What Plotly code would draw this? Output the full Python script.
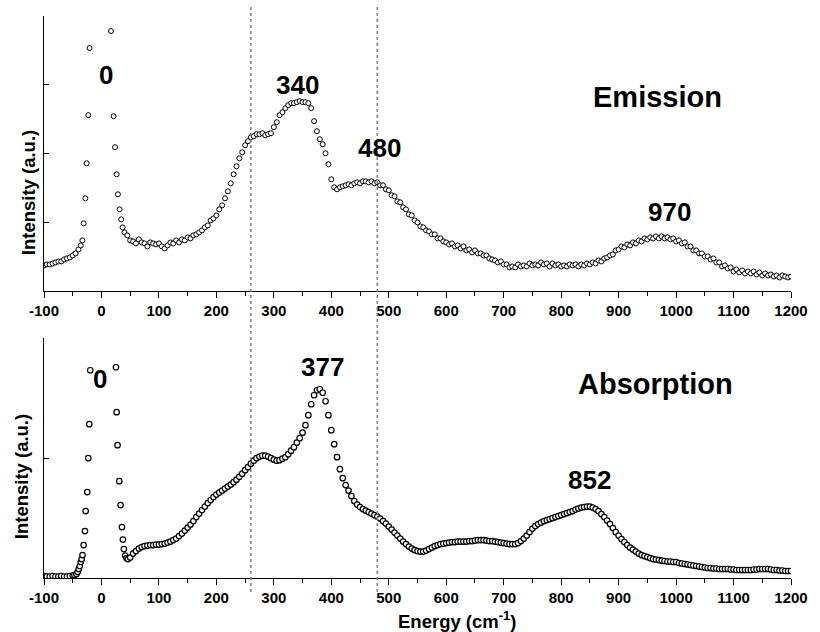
import plotly.graph_objects as go

# ---------------- Emission (top panel) ----------------
em_left_x = list(range(-100, -35, 5))
em_left_y = [26, 27, 27, 28, 29, 30, 30, 32, 33, 34, 36, 38, 42]

em_peak_x = [-36, -33.2, -31, -28, -25.8, -23, -20.7, -18, -15, -12, -9, -6, -3, 0,
             3, 6, 9, 12, 14.5, 16.6, 21.2, 23.5, 26.4, 28.7, 31.6, 34.4, 36.7]
em_peak_y = [46, 51, 68, 93, 128, 176, 243, 330, 420, 520, 600, 650, 680, 690,
             670, 600, 500, 400, 320, 260, 175, 144, 117, 97, 82, 72, 64]

em_right_x = list(range(40, 1201, 5))
em_right_y = [
    59, 56, 51, 50, 48, 52, 49, 48, 45, 49,
    48, 47, 48, 45, 43, 46, 49, 48, 51, 49,
    52, 51, 54, 53, 56, 57, 59, 61, 64, 66,
    71, 73, 76, 82, 86, 93, 100, 108, 117, 125,
    133, 139, 146, 150, 154, 155, 157, 157, 158, 156,
    157, 158, 164, 169, 176, 179, 183, 186, 188, 188,
    189, 190, 189, 189, 188, 183, 170, 160, 152, 147,
    138, 127, 112, 104, 102, 104, 105, 106, 107, 106,
    108, 109, 108, 110, 110, 109, 110, 108, 109, 106,
    106, 102, 101, 96, 95, 90, 89, 84, 82, 77,
    76, 71, 69, 65, 64, 61, 60, 57, 57, 53,
    53, 50, 49, 47, 48, 45, 46, 43, 45, 41,
    42, 39, 41, 38, 38, 36, 36, 33, 32, 31,
    29, 30, 27, 27, 24, 25, 24, 27, 25, 26,
    25, 28, 26, 27, 26, 29, 27, 28, 25, 28,
    26, 27, 25, 26, 25, 27, 26, 27, 25, 27,
    26, 28, 27, 29, 28, 31, 30, 33, 34, 36,
    37, 41, 42, 45, 44, 47, 46, 49, 48, 51,
    50, 53, 52, 54, 53, 55, 53, 55, 53, 54,
    52, 53, 50, 51, 48, 49, 45, 45, 41, 41,
    38, 38, 35, 35, 32, 33, 29, 29, 25, 26,
    23, 24, 20, 22, 19, 21, 18, 20, 18, 20,
    17, 19, 16, 18, 16, 17, 15, 16, 14, 16,
    15, 14, 15,
]

# ---------------- Absorption (bottom panel) ----------------
ab_left_x = list(range(-100, -49, 5))
ab_left_y = [2, 1.5, 1.5, 2, 1.5, 1.5, 2, 1.5, 1.5, 2, 2.5]

ab_peak_x = [-47, -43.6, -41.5, -39.6, -37.8, -36, -34.5, -33, -31, -28.7, -27.5,
             -24.7, -23, -21.2, -19.5, -17, -14, -10, -6, -2, 2, 6, 10, 14, 18, 22,
             25.2, 26.4, 28, 31, 33.3, 35.6, 37.3, 39, 41.3, 43.6, 46]
ab_peak_y = [3, 4, 6, 9, 12, 16, 19, 23, 33, 47, 67,
             86, 120, 154, 208, 260, 320, 380, 420, 440, 440, 420, 390, 350, 300, 250,
             211, 166, 133, 97, 73, 51, 38.5, 29, 22.5, 20, 19]

ab_right_x = list(range(50, 1201, 5))
ab_right_y = [
    20.5, 24.5, 27, 29.5, 31, 32, 32.5, 33, 33, 33.5,
    33.5, 34, 34.5, 35.5, 36.5, 38, 39.5, 42, 44.5, 47.5,
    50.5, 53.5, 57, 61, 64.5, 68, 71.5, 75, 78, 81,
    83.5, 85.5, 87.5, 89.5, 91.5, 93.5, 96, 98.5, 101.5, 104.5,
    108, 111, 114.5, 117.5, 120, 121.5, 122.5, 122.5, 121.5, 120,
    118.5, 117.5, 118, 119.5, 121, 124, 127.5, 131, 135.5, 140,
    145.5, 153, 163, 174, 183, 188, 189, 185.5, 177, 163,
    148, 134, 121, 109, 100, 93, 87.5, 82, 77, 73.5,
    71, 69, 67.5, 66, 64.5, 63, 61.5, 59.5, 57, 54.5,
    51.5, 48.5, 45.5, 42.5, 39.5, 36.5, 34, 31.5, 29.5, 28,
    27, 26.5, 26.5, 27.5, 29, 30.5, 32, 33, 34, 34.5,
    35, 35.5, 36, 36, 36.5, 36.5, 36.5, 36.5, 37, 37,
    37.5, 38, 38, 38, 37.5, 37, 37, 36.5, 36, 35.5,
    35, 34.5, 34, 34, 34, 35, 37, 39.5, 42.5, 46,
    49.5, 52, 54, 55.5, 57, 58, 59, 60, 61, 62,
    63, 64, 65, 66, 67, 68.5, 69.5, 70.5, 71, 71.5,
    71.5, 70.5, 69, 67, 64, 61, 57.5, 54, 50, 46,
    42.5, 39, 36, 33, 30.5, 28.5, 26.5, 24.5, 23, 22,
    21, 20, 19, 18.5, 18, 17.5, 17, 16.5, 16.5, 16,
    16, 15, 14.5, 14, 13.5, 13, 12.5, 12, 11.5, 11,
    10.5, 10, 10, 9.5, 9.5, 9, 9, 9, 9, 8.5,
    8.5, 8, 8, 8, 8, 8, 8, 8.5, 8.5, 9,
    9, 9, 9, 8.5, 8, 8, 7.5, 7.5, 7, 7,
    7,
]

emission_x = em_left_x + em_peak_x + em_right_x
emission_y = em_left_y + em_peak_y + em_right_y
absorption_x = ab_left_x + ab_peak_x + ab_right_x
absorption_y = ab_left_y + ab_peak_y + ab_right_y

x_ticks = list(range(-100, 1201, 100))
marker_lines = [260, 480]

em_labels = [("0", 8, 216), ("340", 341, 206), ("480", 484, 143), ("970", 989, 79)]
ab_labels = [("0", -3, 199), ("377", 384, 211), ("852", 850, 98)]

FONT = "Liberation Sans, Arial, Helvetica, sans-serif"

em_marker = dict(symbol="circle", size=5, color="white", line=dict(color="black", width=1))
ab_marker = dict(symbol="circle", size=5.5, color="white", line=dict(color="black", width=1.2))

fig = go.Figure()
fig.add_trace(go.Scatter(x=emission_x, y=emission_y, mode="markers", marker=em_marker,
                         xaxis="x", yaxis="y", showlegend=False))
fig.add_trace(go.Scatter(x=absorption_x, y=absorption_y, mode="markers", marker=ab_marker,
                         xaxis="x2", yaxis="y2", showlegend=False))

xcommon = dict(range=[-100, 1200], tickvals=x_ticks, ticktext=[str(v) for v in x_ticks],
               ticks="outside", ticklen=6, tickwidth=1, tickcolor="black",
               showline=True, linecolor="black", linewidth=1, showgrid=False, zeroline=False,
               tickfont=dict(family=FONT, size=15, color="black", weight="bold"),
               minor=dict(dtick=50, tick0=-100, ticks="outside", ticklen=4, tickcolor="black",
                          showgrid=False))
ycommon = dict(ticks="inside", ticklen=5, tickwidth=1, tickcolor="black", showline=True,
               linecolor="black", linewidth=1, showgrid=False, zeroline=False,
               showticklabels=False)

fig.update_layout(
    width=820, height=632,
    margin=dict(l=44, r=21, t=16, b=54),
    paper_bgcolor="white", plot_bgcolor="white",
    xaxis=dict(anchor="y", domain=[0, 1], **xcommon),
    xaxis2=dict(anchor="y2", domain=[0, 1], **xcommon),
    yaxis=dict(anchor="x", domain=[0.5098, 1.0], range=[0, 275],
               tickvals=[68.75, 137.5, 206.25], **ycommon),
    yaxis2=dict(anchor="x2", domain=[0, 0.4265], range=[0, 240],
                tickvals=[120], **ycommon),
)

bold = dict(family=FONT, color="black", weight="bold")
ann = []
for t, x, y in em_labels:
    ann.append(dict(text=t, x=x, y=y, xref="x", yref="y", showarrow=False,
                    font=dict(size=26, **bold)))
for t, x, y in ab_labels:
    ann.append(dict(text=t, x=x, y=y, xref="x2", yref="y2", showarrow=False,
                    font=dict(size=26, **bold)))
ann.append(dict(text="Emission", x=968, y=194, xref="x", yref="y", showarrow=False,
                font=dict(size=29, **bold)))
ann.append(dict(text="Absorption", x=964, y=194, xref="x2", yref="y2", showarrow=False,
                font=dict(size=29, **bold)))
ann.append(dict(text="Intensity (a.u.)", x=-0.0212, y=0.685, xref="paper", yref="paper",
                textangle=-90, showarrow=False, xanchor="center", yanchor="middle",
                font=dict(size=18.5, **bold)))
ann.append(dict(text="Intensity (a.u.)", x=-0.0305, y=0.1797, xref="paper", yref="paper",
                textangle=-90, showarrow=False, xanchor="center", yanchor="middle",
                font=dict(size=18.5, **bold)))
ann.append(dict(text="Energy (cm<sup>-1</sup>)", x=0.553, y=-0.0747, xref="paper",
                yref="paper", showarrow=False, xanchor="center", yanchor="middle",
                font=dict(size=18.5, **bold)))
fig.update_layout(annotations=ann)

for xv in marker_lines:
    fig.add_shape(type="line", xref="x", yref="paper", x0=xv, x1=xv, y0=-0.025, y1=1.0196,
                  line=dict(color="#808080", width=1.5, dash="dot"))

fig.write_html("out.html")
